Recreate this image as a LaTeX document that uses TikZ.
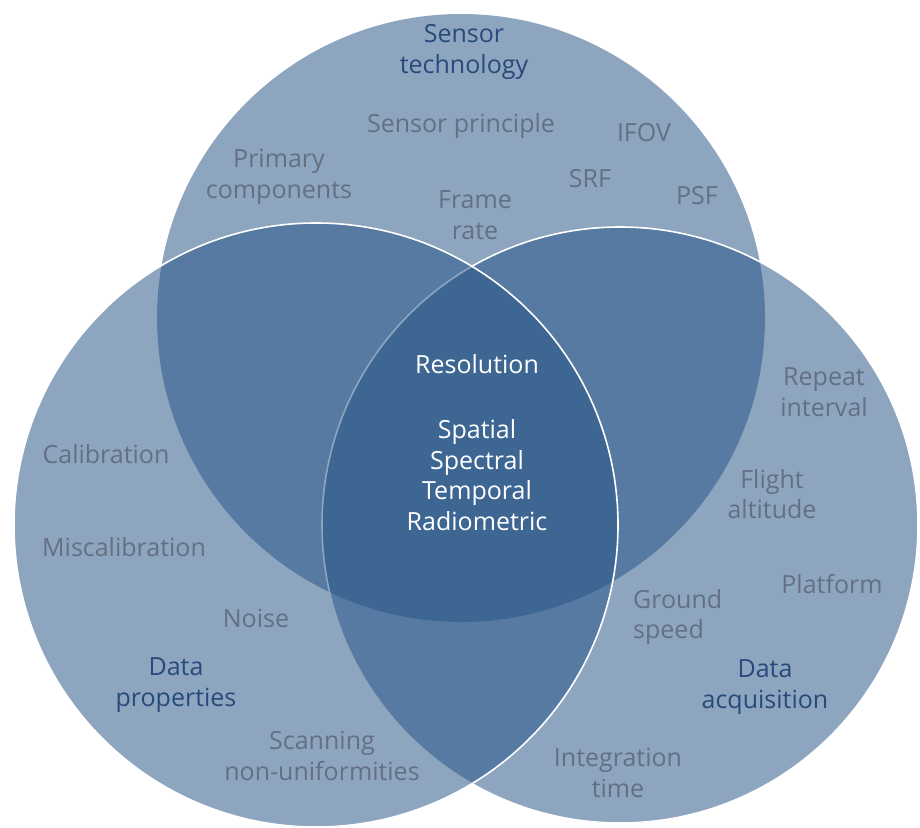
\documentclass[tikz,border=0pt]{standalone}
\usepackage{fontspec}
\setmainfont{Open Sans}
\definecolor{vennblue}{RGB}{38,83,134}
\definecolor{txtgray}{RGB}{100,112,130}
\definecolor{headblue}{RGB}{40,74,122}
\begin{document}
\begin{tikzpicture}[x=1pt,y=-1pt,
  lbl/.style={font=\fontsize{25}{30.5}\selectfont, text=txtgray, align=center, inner sep=0pt},
  head/.style={lbl, text=headblue},
  core/.style={lbl, text=white},
  circfill/.style={fill=vennblue, fill opacity=0.52},
  rim/.style={draw=white, line width=1.6pt}]
\useasboundingbox (0,0) rectangle (920,827);
\begin{scope}
\clip (0,0) rectangle (920,827);
\fill[circfill] (461,318) circle[radius=304];
\fill[circfill] (620,525) circle[radius=298];
\draw[rim] (620,525) circle[radius=298];
\fill[circfill] (316,525) circle[radius=302];
\draw[rim] (316,525) circle[radius=302];
\end{scope}
\node[head] (sensortech) at (464,52) {Sensor\\technology};
\node[lbl] (sprinc) at (461,126) {Sensor principle};
\node[lbl] (ifov) at (644,133) {IFOV};
\node[lbl] (primary) at (279,177) {Primary\\components};
\node[lbl] (srf) at (590,179) {SRF};
\node[lbl] (psf) at (697,196) {PSF};
\node[lbl] (frame) at (475,215) {Frame\\rate};
\node[core] (resol) at (477,364) {Resolution};
\node[core] (types) at (477,475) {Spatial\\Spectral\\Temporal\\Radiometric};
\node[lbl] (repeat) at (824,392) {Repeat\\interval};
\node[lbl] (calib) at (106,454) {Calibration};
\node[lbl] (flight) at (772,494) {Flight\\altitude};
\node[lbl] (miscal) at (124,547) {Miscalibration};
\node[lbl] (platform) at (832,584) {Platform};
\node[lbl, align=left, anchor=west] (ground) at (633,617) {Ground\\speed};
\node[lbl] (noise) at (256,618) {Noise};
\node[head] (dataprop) at (176,685) {Data\\properties};
\node[head] (dataacq) at (765,687) {Data\\acquisition};
\node[lbl] (scan) at (322,756) {Scanning\\non-uniformities};
\node[lbl] (integ) at (618,773) {Integration\\time};
\end{tikzpicture}
\end{document}
